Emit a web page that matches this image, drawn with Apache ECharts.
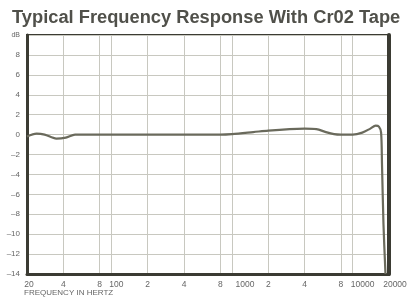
<!DOCTYPE html>
<html>
<head>
<meta charset="utf-8">
<script src="https://cdn.jsdelivr.net/npm/echarts@6/dist/echarts.min.js"></script>
<style>
html, body { margin: 0; padding: 0; background: #fff; }
#chart { width: 410px; height: 303px; }
</style>
</head>
<body>
<div id="chart"></div>
<script>
// frequency response
let freqs = [20, 24, 28, 35, 42, 50, 60, 100, 200, 500, 800, 1000, 1500, 2000, 3000, 4000, 5000, 6000, 7000, 8000, 10000, 12000, 14000, 15500, 16500, 17200, 17500, 18000, 18700];
let levels = [-0.2, 0.1, 0, -0.4, -0.3, 0, 0, 0, 0, 0, 0, 0.05, 0.25, 0.4, 0.55, 0.6, 0.55, 0.25, 0.05, 0, 0, 0.2, 0.6, 0.9, 0.8, 0.2, -3, -9, -14];

// vertical rulings and their printed labels
let tickFreqs = [20, 40, 80, 100, 200, 400, 800, 1000, 2000, 4000, 8000, 10000, 20000];
let tickLabels = ['20', '4', '8', '100', '2', '4', '8', '1000', '2', '4', '8', '10000', '20000'];

let font = 'Liberation Sans';
let ink = '#3b3b33';

// the long labels are printed starting near their ruling, not centred on it
function labelStyle(v) {
    if (v === 20) return 'a';
    if (v === 100) return 'b';
    if (v === 1000) return 'c';
    if (v === 10000) return 'd';
    if (v === 20000) return 'e';
    return 'n';
}

let myChart = echarts.init(document.getElementById('chart'), null, {renderer: 'canvas'});
let option = {
    animation: false,
    title: {
        text: 'Typical Frequency Response With Cr02 Tape',
        left: 7,
        top: 4,
        textStyle: {fontFamily: font, fontSize: 18.3, fontWeight: 'bold', color: '#50504a'}
    },
    grid: {
        left: 27, right: 21, top: 35, bottom: 29,
        show: true, borderColor: ink, borderWidth: 2
    },
    graphic: [{
        type: 'text', left: 24, top: 289,
        style: {text: 'FREQUENCY IN HERTZ', fontFamily: font, fontSize: 8, fill: '#666'}
    }],
    xAxis: {
        type: 'log',
        logBase: 10,
        min: 20,
        max: 20000,
        axisLine: {show: true, onZero: false, lineStyle: {color: ink, width: 3}},
        axisTick: {show: false, customValues: tickFreqs},
        axisLabel: {
            customValues: tickFreqs,
            fontFamily: font, fontSize: 8.5, color: '#666', margin: 6,
            formatter(v) {
                let f = Math.round(v);
                let i = tickFreqs.indexOf(f);
                return i >= 0 ? '{' + labelStyle(f) + '|' + tickLabels[i] + '}' : '';
            },
            rich: {
                n: {fontFamily: font, fontSize: 8.5, color: '#666'},
                a: {fontFamily: font, fontSize: 8.5, color: '#666', padding: [0, 0, 0, 4]},
                b: {fontFamily: font, fontSize: 8.5, color: '#666', padding: [0, 0, 0, 10]},
                c: {fontFamily: font, fontSize: 8.5, color: '#666', padding: [0, 0, 0, 26]},
                d: {fontFamily: font, fontSize: 8.5, color: '#666', padding: [0, 0, 0, 20]},
                e: {fontFamily: font, fontSize: 8.5, color: '#666', padding: [0, 0, 0, 12]}
            }
        },
        splitLine: {show: true, lineStyle: {color: '#c8c8c0', width: 1}}
    },
    yAxis: [{
        type: 'value',
        min: -14,
        max: 10,
        interval: 2,
        axisLine: {show: true, lineStyle: {color: ink, width: 3}},
        axisTick: {show: false},
        axisLabel: {
            fontFamily: font, fontSize: 8, color: '#666', margin: 7,
            formatter(v) {
                if (v === 10) return '{u|dB}';
                return v < 0 ? '\u2013' + (-v) : String(v);
            },
            rich: {u: {fontSize: 7, color: '#666', fontFamily: font}}
        },
        splitLine: {show: true, lineStyle: {color: '#c8c8c0', width: 1}}
    }, {
        type: 'value',
        position: 'right',
        min: -14,
        max: 10,
        axisLine: {show: true, lineStyle: {color: ink, width: 4}},
        axisTick: {show: false},
        axisLabel: {show: false},
        splitLine: {show: false}
    }],
    series: [{
        type: 'line',
        data: freqs.map((f, i) => [f, levels[i]]),
        showSymbol: false,
        smooth: 0.3,
        lineStyle: {color: '#6a6a5c', width: 2.2}
    }]
};
myChart.setOption(option);
</script>
</body>
</html>
